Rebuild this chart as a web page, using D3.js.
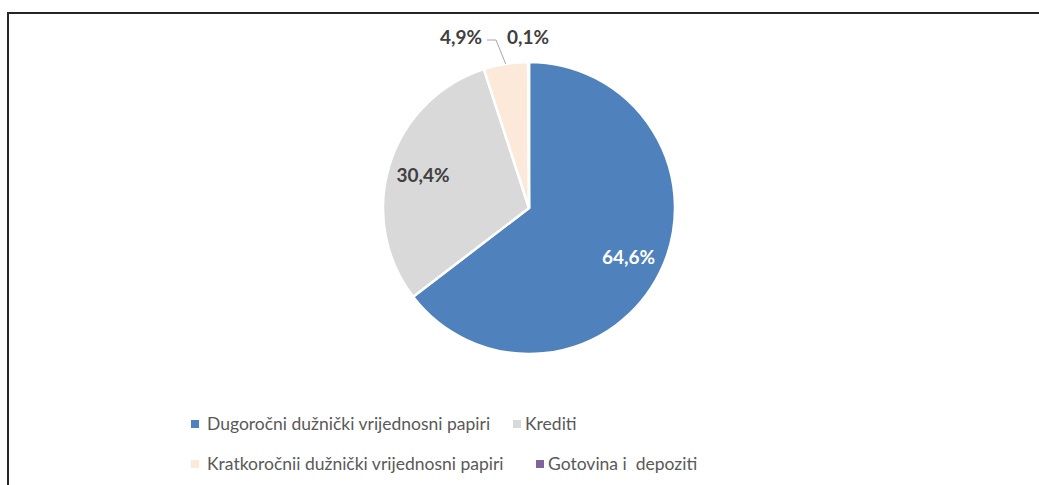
<!DOCTYPE html>
<html>
<head>
<meta charset="utf-8">
<script src="https://cdn.jsdelivr.net/npm/d3@7"></script>
<style>
  body { margin: 0; background: #fff; }
  svg { display: block; }
</style>
</head>
<body>
<script>
// Chart data
const categories = [
  "Dugoročni dužnički vrijednosni papiri",
  "Krediti",
  "Kratkoročnii dužnički vrijednosni papiri",
  "Gotovina i  depoziti"
];
const values = [64.6, 30.4, 4.9, 0.1];
const labels = ["64,6%", "30,4%", "4,9%", "0,1%"];
const colors = ["#4f81bd", "#d9d9d9", "#fde9d9", "#8064a2"];

const width = 1039, height = 485;
const cx = 529, cy = 208, radius = 146;

const svg = d3.select("body")
  .append("svg")
  .attr("width", width)
  .attr("height", height);

// frame (top and left edges visible)
svg.append("path")
  .attr("d", `M8,${height} L8,13 L${width},13`)
  .attr("fill", "none")
  .attr("stroke", "#262626")
  .attr("stroke-width", 2);

const data = categories.map((c, i) => ({ name: c, value: values[i], label: labels[i], color: colors[i] }));

const pie = d3.pie().value(d => d.value).sort(null);
const arcs = pie(data);

const arc = d3.arc().innerRadius(0).outerRadius(radius);
const labelArc = d3.arc().innerRadius(radius * 0.76).outerRadius(radius * 0.76);

const g = svg.append("g").attr("transform", `translate(${cx},${cy})`);

g.selectAll("path.slice")
  .data(arcs)
  .enter().append("path")
  .attr("class", "slice")
  .attr("d", arc)
  .attr("fill", d => d.data.color)
  .attr("stroke", "#fff")
  .attr("stroke-width", 2.5)
  .attr("stroke-linejoin", "round");

// inside labels for big slices
g.selectAll("text.inner")
  .data(arcs.filter(d => d.data.value > 10))
  .enter().append("text")
  .attr("class", "inner")
  .attr("transform", d => `translate(${labelArc.centroid(d)})`)
  .attr("text-anchor", "middle")
  .attr("dy", "0.35em")
  .style("font-family", "Lato, 'Open Sans', sans-serif")
  .style("font-weight", "bold")
  .style("font-size", "19px")
  .attr("fill", (d, i) => i === 0 ? "#fff" : "#404040")
  .text(d => d.data.label);

// outside labels for small slices
const outer = arcs.filter(d => d.data.value <= 10);
const outerPos = [[-68, -171], [-1, -171]];
outer.forEach((d, i) => {
  g.append("text")
    .attr("x", outerPos[i][0])
    .attr("y", outerPos[i][1])
    .attr("text-anchor", "middle")
    .attr("dy", "0.35em")
    .style("font-family", "Lato, 'Open Sans', sans-serif")
    .style("font-weight", "bold")
    .style("font-size", "19px")
    .attr("fill", "#404040")
    .text(d.data.label);
});

// leader line for the 4,9% slice
const pk = arcs[2];
const mid = (pk.startAngle + pk.endAngle) / 2;
const edge = [Math.sin(mid) * radius, -Math.cos(mid) * radius];
g.append("polyline")
  .attr("points", [[-42, -168], [-33, -168], edge].map(p => p.join(",")).join(" "))
  .attr("fill", "none")
  .attr("stroke", "#a6a6a6")
  .attr("stroke-width", 1);

// legend
const legendPos = [[191, 424], [513, 424], [191, 464], [536, 464]];
const legend = svg.append("g");
data.forEach((d, i) => {
  const [x, y] = legendPos[i];
  legend.append("rect")
    .attr("x", x).attr("y", y - 4)
    .attr("width", 8).attr("height", 8)
    .attr("fill", d.color);
  legend.append("text")
    .attr("x", x + (i % 2 === 0 ? 16 : 12)).attr("y", y)
    .attr("dy", "0.35em")
    .style("font-family", "Lato, 'Open Sans', sans-serif")
    .style("font-size", "17.5px")
    .style("white-space", "pre")
    .attr("fill", "#595959")
    .text(d.name);
});
</script>
</body>
</html>
